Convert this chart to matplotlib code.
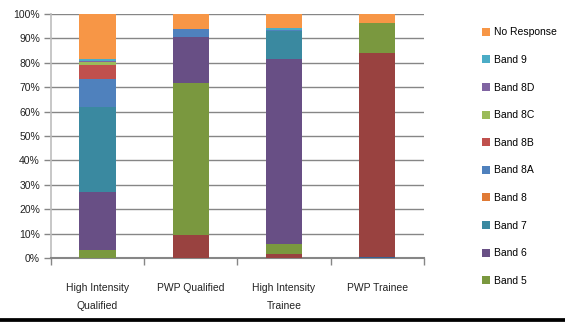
import numpy as np
import matplotlib
matplotlib.use('Agg')
import matplotlib.pyplot as plt
from matplotlib.patches import Patch
from matplotlib.lines import Line2D

plt.rcParams['font.family'] = ['Liberation Sans', 'DejaVu Sans']

# Grupos de personal
categorias = ['High Intensity\nQualified', 'PWP Qualified', 'High Intensity\nTrainee', 'PWP Trainee']

# Porcentajes por banda (de abajo hacia arriba)
band_3 = [0.0, 0.0, 0.0, 0.3]
band_4 = [0.0, 9.5, 1.8, 83.7]
band_5 = [3.1, 62.2, 4.1, 12.3]
band_6 = [24.0, 18.8, 75.7, 0.0]
band_7 = [34.7, 0.0, 11.6, 0.0]
band_8 = [0.0, 0.0, 0.0, 0.0]
band_8a = [11.6, 3.3, 0.4, 0.0]
band_8b = [5.7, 0.0, 0.0, 0.0]
band_8c = [1.4, 0.0, 0.0, 0.0]
band_8d = [0.4, 0.0, 0.0, 0.0]
band_9 = [0.7, 0.0, 0.7, 0.0]
no_response = [18.4, 6.2, 5.7, 3.7]

series = [
    (None, band_3, '#376092'),
    (None, band_4, '#994240'),
    ('Band 5', band_5, '#7A983F'),
    ('Band 6', band_6, '#684F85'),
    ('Band 7', band_7, '#3A89A0'),
    ('Band 8', band_8, '#E07A35'),
    ('Band 8A', band_8a, '#4F81BD'),
    ('Band 8B', band_8b, '#C0504D'),
    ('Band 8C', band_8c, '#9BBB59'),
    ('Band 8D', band_8d, '#8064A2'),
    ('Band 9', band_9, '#4BACC6'),
    ('No Response', no_response, '#F79646'),
]

fig = plt.figure(figsize=(5.65, 3.22), dpi=100)
ax = fig.add_axes([0.0903, 0.199, 0.6597, 0.7576])

x = np.arange(len(categorias))
base = np.zeros(len(categorias))
for nombre, vals, color in series:
    ax.bar(x, vals, width=0.39, bottom=base, color=color, zorder=3)
    base += np.array(vals)

ax.set_xlim(-0.5, len(categorias) - 0.5)
ax.set_ylim(0, 100)
ax.set_yticks(np.arange(0, 101, 10))
ax.set_yticklabels([f'{v}%' for v in range(0, 101, 10)], fontsize=7.5, color='#222222')
ax.yaxis.grid(True, color='#868686', linewidth=1.0, zorder=0)

ax.set_xticks(x)
ax.set_xticklabels(categorias, fontsize=7.5, color='#222222', linespacing=2.0)
ax.tick_params(axis='x', length=0, pad=18)
ax.set_xticks(np.arange(-0.5, len(categorias)), minor=True)
ax.tick_params(axis='x', which='minor', length=5, color='#868686', width=1)
ax.tick_params(axis='y', length=5, color='#868686', width=1, pad=3)

for s in ['top', 'right']:
    ax.spines[s].set_visible(False)
ax.spines['left'].set_color('#BDBDBD')
ax.spines['left'].set_linewidth(1.2)
ax.spines['bottom'].set_color('#868686')
ax.spines['bottom'].set_linewidth(1.5)

# Leyenda en orden inverso, sin las bandas sin nombre
handles = [Patch(facecolor=c, edgecolor='none', label=n) for n, v, c in series if n]
handles = handles[::-1]
fig.legend(handles=handles, loc='upper left', bbox_to_anchor=(0.853, 0.915),
           frameon=False, fontsize=7.5, handlelength=0.8, handleheight=0.8,
           handletextpad=0.35, labelspacing=1.69, borderaxespad=0, borderpad=0)

# Línea negra inferior
fig.add_artist(Line2D([0, 1], [0.006, 0.006], color='black', linewidth=2.7,
                      transform=fig.transFigure))

fig.savefig('out.png', dpi=100)
